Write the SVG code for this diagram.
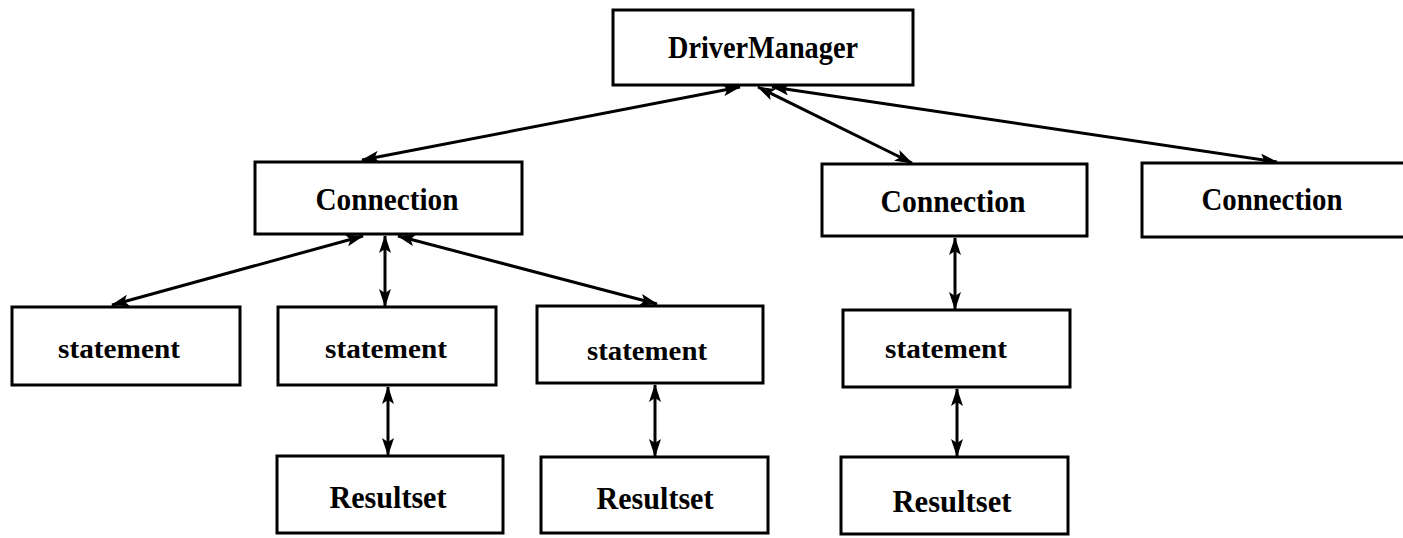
<svg xmlns="http://www.w3.org/2000/svg" width="1403" height="538" viewBox="0 0 1403 538">
<style>
.box{fill:#fff;stroke:#000;stroke-width:3}
.lbl{font-family:"Liberation Serif",serif;font-weight:bold;font-size:31px;fill:#000;text-anchor:middle}
.sm{font-size:28px}
.con{stroke:#000;stroke-width:3;fill:none;marker-start:url(#ah);marker-end:url(#ah)}
</style>
<defs>
<marker id="ah" viewBox="0 0 18 12" refX="17" refY="6" markerWidth="18" markerHeight="12" markerUnits="userSpaceOnUse" orient="auto-start-reverse">
<path d="M0,0 L18,6 L0,12 L4,6 Z" fill="#000"/>
</marker>
</defs>
<rect width="1403" height="538" fill="#fff"/>
<g id="connectors">
<line class="con" x1="740" y1="87" x2="362" y2="160"/>
<line class="con" x1="758" y1="87" x2="912" y2="163"/>
<line class="con" x1="772" y1="87" x2="1277" y2="162"/>
<line class="con" x1="363" y1="236" x2="112" y2="305"/>
<line class="con" x1="385" y1="236" x2="385" y2="306"/>
<line class="con" x1="398" y1="236" x2="657" y2="304"/>
<line class="con" x1="955" y1="238" x2="955" y2="309"/>
<line class="con" x1="388" y1="387" x2="388" y2="455"/>
<line class="con" x1="655" y1="385" x2="655" y2="456"/>
<line class="con" x1="957" y1="389" x2="957" y2="456"/>
</g>
<g id="drivermanager"><rect class="box" x="613" y="10" width="300" height="75"/><text class="lbl" x="763" y="58" textLength="190" lengthAdjust="spacingAndGlyphs">DriverManager</text></g>
<g id="connection1"><rect class="box" x="255" y="162" width="267" height="72"/><text class="lbl" x="387" y="210" textLength="143" lengthAdjust="spacingAndGlyphs">Connection</text></g>
<g id="connection2"><rect class="box" x="822" y="164" width="265" height="72"/><text class="lbl" x="953" y="212" textLength="145" lengthAdjust="spacingAndGlyphs">Connection</text></g>
<g id="connection3"><rect class="box" x="1142" y="163" width="270" height="74"/><text class="lbl" x="1272" y="210" textLength="141" lengthAdjust="spacingAndGlyphs">Connection</text></g>
<g id="statement1"><rect class="box" x="12" y="307" width="228" height="78"/><text class="lbl sm" x="119" y="358" textLength="122" lengthAdjust="spacingAndGlyphs">statement</text></g>
<g id="statement2"><rect class="box" x="278" y="307" width="218" height="78"/><text class="lbl sm" x="386" y="358" textLength="122" lengthAdjust="spacingAndGlyphs">statement</text></g>
<g id="statement3"><rect class="box" x="537" y="306" width="226" height="77"/><text class="lbl sm" x="647" y="360" textLength="120" lengthAdjust="spacingAndGlyphs">statement</text></g>
<g id="statement4"><rect class="box" x="843" y="310" width="227" height="77"/><text class="lbl sm" x="946" y="358" textLength="122" lengthAdjust="spacingAndGlyphs">statement</text></g>
<g id="resultset1"><rect class="box" x="277" y="456" width="226" height="77"/><text class="lbl" x="388" y="508" textLength="117" lengthAdjust="spacingAndGlyphs">Resultset</text></g>
<g id="resultset2"><rect class="box" x="541" y="457" width="227" height="76"/><text class="lbl" x="655" y="509" textLength="117" lengthAdjust="spacingAndGlyphs">Resultset</text></g>
<g id="resultset3"><rect class="box" x="841" y="457" width="227" height="77"/><text class="lbl" x="952" y="512" textLength="119" lengthAdjust="spacingAndGlyphs">Resultset</text></g>
</svg>
